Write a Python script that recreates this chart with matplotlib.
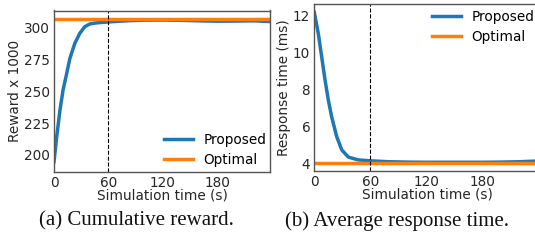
import matplotlib
matplotlib.use("Agg")
import matplotlib.pyplot as plt

# Data
t_reward = [0, 3, 6.6, 10, 14, 17.6, 23, 28.5, 34, 39.5, 45, 50.5, 60, 70, 83, 100, 120, 140, 160, 180, 200, 220, 240]
reward_proposed = [194.7, 214.4, 235.3, 251, 264, 276, 287.7, 295.6, 300.8, 302.9, 303.6, 304.0, 304.5, 305.0,
                   305.5, 305.9, 306.0, 305.8, 305.4, 305.1, 305.2, 305.4, 304.8]
reward_optimal = 306.6

t_resp = [0, 4.3, 7.9, 11.5, 15, 18.6, 24, 29.4, 36.5, 47, 60, 80, 100, 120, 150, 180, 200, 220, 240]
resp_proposed = [12.15, 11.0, 9.75, 8.5, 7.42, 6.51, 5.44, 4.72, 4.33, 4.18, 4.13, 4.08, 4.06, 4.05, 4.05, 4.05,
                 4.06, 4.08, 4.12]
resp_optimal = 4.0

xticks = [0, 60, 120, 180]
reward_yticks = [200, 225, 250, 275, 300]
resp_yticks = [4, 6, 8, 10, 12]
captions = ["(a) Cumulative reward.", "(b) Average response time."]

W, H = 535, 243
fig = plt.figure(figsize=(W / 100, H / 100), dpi=100)
fig.patch.set_facecolor("white")

def px_axes(left, right, top, bottom):
    return fig.add_axes([left / W, 1 - bottom / H, (right - left) / W, (bottom - top) / H])

blue = "#1f77b4"
orange = "#ff7f0e"
fs = 9.8
tc = "#262626"

def style(ax):
    for s in ax.spines.values():
        s.set_color("#555555")
        s.set_linewidth(1.0)
    ax.tick_params(length=0, labelsize=fs, colors=tc, pad=3)

leg_kw = dict(frameon=False, fontsize=fs, handlelength=2.15, handletextpad=0.75,
              labelspacing=0.45, borderpad=0.0, borderaxespad=0.0)

ax1 = px_axes(54, 270, 10.5, 172)
ax1.plot(t_reward, reward_proposed, color=blue, lw=2.5, label="Proposed")
ax1.plot([0, 240], [reward_optimal, reward_optimal], color=orange, lw=2.5, label="Optimal")
ax1.axvline(60, color="black", lw=0.8, ls="--")
ax1.set_xlim(0, 238.5)
ax1.set_ylim(186.6, 313.5)
ax1.set_xticks(xticks)
ax1.set_yticks(reward_yticks)
ax1.set_xlabel("Simulation time (s)", fontsize=fs, color=tc, labelpad=-1)
ax1.set_ylabel("Reward x 1000", fontsize=fs, color=tc, labelpad=1)
ax1.legend(loc="lower right", bbox_to_anchor=(266 / W, 1 - 167 / H),
           bbox_transform=fig.transFigure, **leg_kw)
style(ax1)

ax2 = px_axes(314.3, 541, 4.5, 171)
ax2.plot(t_resp, resp_proposed, color=blue, lw=2.5, label="Proposed")
ax2.plot([0, 240], [resp_optimal, resp_optimal], color=orange, lw=2.5, label="Optimal")
ax2.axvline(60, color="black", lw=0.8, ls="--")
ax2.set_xlim(0, 243)
ax2.set_ylim(3.58, 12.57)
ax2.set_xticks(xticks)
ax2.set_yticks(resp_yticks)
ax2.set_xlabel("Simulation time (s)", fontsize=fs, color=tc, labelpad=-1)
ax2.set_ylabel("Response time (ms)", fontsize=fs, color=tc, labelpad=1)
ax2.legend(loc="upper right", bbox_to_anchor=(534 / W, 1 - 10 / H),
           bbox_transform=fig.transFigure, **leg_kw)
style(ax2)

fig.text(136 / W, 1 - 221 / H, captions[0], ha="center", va="center", fontsize=15,
         family="Liberation Serif", color="#111111")
fig.text(397 / W, 1 - 221 / H, captions[1], ha="center", va="center", fontsize=15,
         family="Liberation Serif", color="#111111")

fig.savefig("out.png", dpi=100, facecolor="white")
